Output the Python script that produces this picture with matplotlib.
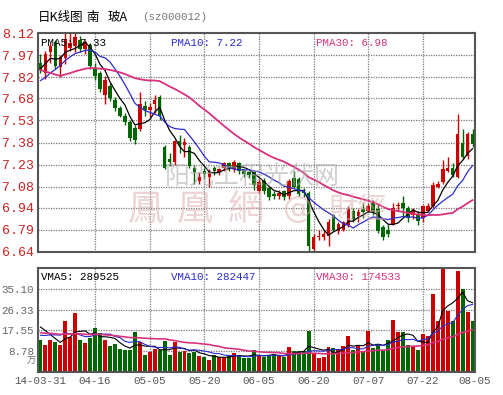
import matplotlib.pyplot as plt
import numpy as np
import pandas as pd

plt.rcParams['font.family'] = ['DejaVu Sans', 'Noto Sans CJK SC']

W, H = 503, 395

# daily candles 2014-03-31 .. 2014-08-05 (88 trading days)
opens = [7.92, 7.85, 7.99, 8.06, 7.89, 7.95, 8.02, 8.03, 8.07, 8.01,
         8.04, 7.88, 7.85, 7.70, 7.76, 7.67, 7.61, 7.56, 7.52, 7.48,
         7.47, 7.63, 7.60, 7.64, 7.69, 7.35, 7.27, 7.25, 7.39, 7.36,
         7.35, 7.21, 7.12, 7.19, 7.15, 7.21, 7.18, 7.21, 7.24, 7.20,
         7.24, 7.20, 7.18, 7.18, 7.05, 7.12, 7.07, 7.03, 7.02, 7.05,
         7.02, 7.14, 7.13, 7.05, 7.04, 6.66, 6.74, 6.74, 6.75, 6.89,
         6.78, 6.79, 6.82, 6.92, 6.88, 6.93, 6.92, 6.97, 6.93, 6.81,
         6.79, 6.83, 6.95, 6.97, 6.94, 6.89, 6.90, 6.87, 6.92, 6.95,
         7.08, 7.11, 7.19, 7.21, 7.15, 7.38, 7.29, 7.44]
highs = [7.98, 8.00, 8.05, 8.07, 7.97, 8.12, 8.14, 8.13, 8.10, 8.07,
         8.05, 7.92, 7.86, 7.83, 7.78, 7.69, 7.63, 7.58, 7.53, 7.50,
         7.72, 7.66, 7.65, 7.70, 7.70, 7.36, 7.31, 7.40, 7.43, 7.41,
         7.36, 7.23, 7.18, 7.21, 7.20, 7.22, 7.21, 7.25, 7.25, 7.26,
         7.25, 7.21, 7.19, 7.19, 7.13, 7.14, 7.08, 7.05, 7.06, 7.06,
         7.13, 7.19, 7.15, 7.07, 7.05, 6.76, 6.79, 6.79, 6.86, 6.90,
         6.84, 6.85, 6.95, 6.94, 6.93, 6.97, 6.97, 6.99, 6.96, 6.82,
         6.83, 6.97, 6.98, 7.02, 6.95, 6.94, 6.92, 6.96, 6.97, 7.11,
         7.12, 7.26, 7.28, 7.24, 7.57, 7.47, 7.45, 7.47]
lows = [7.85, 7.81, 7.92, 7.88, 7.82, 7.91, 8.00, 7.99, 7.99, 7.98,
        7.88, 7.80, 7.72, 7.64, 7.66, 7.59, 7.55, 7.50, 7.39, 7.37,
        7.46, 7.56, 7.55, 7.58, 7.53, 7.20, 7.22, 7.23, 7.31, 7.28,
        7.21, 7.10, 7.10, 7.14, 7.08, 7.16, 7.16, 7.19, 7.19, 7.18,
        7.17, 7.15, 7.14, 7.06, 7.04, 7.03, 6.99, 7.00, 7.00, 6.99,
        7.00, 7.07, 7.02, 7.01, 6.65, 6.65, 6.72, 6.72, 6.68, 6.78,
        6.76, 6.78, 6.81, 6.84, 6.84, 6.87, 6.91, 6.89, 6.77, 6.72,
        6.74, 6.82, 6.92, 6.88, 6.84, 6.86, 6.82, 6.84, 6.91, 6.94,
        7.07, 7.10, 7.18, 7.15, 7.14, 7.27, 7.27, 7.35]
closes = [7.87, 7.98, 8.03, 7.90, 7.96, 8.08, 8.05, 8.09, 8.01, 8.06,
          7.90, 7.83, 7.74, 7.80, 7.68, 7.61, 7.56, 7.52, 7.41, 7.40,
          7.64, 7.60, 7.62, 7.67, 7.56, 7.21, 7.25, 7.39, 7.36, 7.38,
          7.22, 7.18, 7.15, 7.17, 7.18, 7.19, 7.20, 7.24, 7.21, 7.25,
          7.19, 7.17, 7.16, 7.09, 7.11, 7.05, 7.01, 7.02, 7.04, 7.01,
          7.12, 7.08, 7.03, 7.04, 6.68, 6.74, 6.75, 6.76, 6.84, 6.79,
          6.83, 6.84, 6.93, 6.86, 6.91, 6.91, 6.95, 6.91, 6.78, 6.74,
          6.76, 6.94, 6.96, 6.94, 6.87, 6.92, 6.85, 6.95, 6.95, 7.09,
          7.10, 7.20, 7.21, 7.16, 7.44, 7.28, 7.44, 7.37]
# volume, in 10k (万)
volumes = [13.7, 11.2, 13.7, 12.6, 11.2, 21.6, 14.6, 24.7, 13.7, 12.1,
           14.2, 18.4, 16.3, 13.3, 10.9, 11.9, 9.5, 9.1, 9.1, 16.7,
           12.8, 7.0, 8.4, 9.5, 9.1, 13.0, 7.0, 12.6, 8.4, 8.8,
           8.2, 8.4, 6.6, 6.3, 5.0, 7.0, 6.3, 6.3, 6.6, 7.9,
           7.0, 6.1, 6.1, 9.1, 6.7, 6.3, 7.0, 7.4, 7.0, 6.3,
           10.7, 8.8, 8.8, 8.8, 17.2, 7.9, 5.9, 6.3, 10.7, 10.0,
           9.5, 10.9, 15.1, 9.1, 11.6, 8.7, 17.2, 10.0, 11.2, 9.1,
           13.3, 22.0, 17.0, 16.7, 11.2, 10.5, 9.1, 16.0, 15.0, 33.1,
           21.6, 43.7, 25.8, 21.6, 42.6, 34.9, 25.4, 21.6]

# earlier sessions (before 03-31), only used to feed the moving averages
lead_close = [8.30, 8.28, 8.25, 8.22, 7.80, 7.76, 7.74, 7.75, 7.78, 7.80,
              7.82, 7.85, 7.88, 7.86, 7.84, 7.82, 7.85, 7.83, 7.82, 7.85,
              7.78, 7.72, 7.66, 7.68, 7.76, 7.80, 7.86, 7.92, 7.94]
lead_vol = [18, 16, 19, 17, 15, 18, 20, 16, 17, 18, 15, 17, 19, 16, 18, 17, 16, 18, 17, 16,
            12, 11, 13, 12, 12, 19, 22, 21, 19.2]

price_ticks = ['6.64', '6.79', '6.94', '7.08', '7.23', '7.38', '7.53', '7.68', '7.82', '7.97', '8.12']
vol_ticks = ['8.78', '17.55', '26.33', '35.10']
date_labels = ['14-03-31', '04-16', '05-05', '05-20', '06-05', '06-20', '07-07', '07-22', '08-05']
date_index = [0, 11, 22, 33, 44, 55, 66, 77, 87.5]

pma_text = ['PMA5: 7.33', 'PMA10: 7.22', 'PMA30: 6.98']
vma_text = ['VMA5: 289525', 'VMA10: 282447', 'VMA30: 174533']

RED = '#cc0000'
GREEN = '#006600'
BLUE = '#2b2bd0'
PINK = '#d8307c'
GRID = '#7a7a7a'
EDGE = '#555555'
MONO = 'Liberation Mono'
CJK = ['Noto Sans CJK SC']

n = len(closes)
x = np.arange(n)
o = np.array(opens)
c = np.array(closes)
up = c >= o
cols = np.where(up, RED, GREEN)

allc = pd.Series(lead_close + closes)
allv = pd.Series(lead_vol + volumes)
k = len(lead_close)
pma = [allc.rolling(w).mean().values[k:] for w in (5, 10, 30)]
vma = [allv.rolling(w).mean().values[k:] for w in (5, 10, 30)]
ma_cols = ['black', BLUE, PINK]
ma_lw = [0.9, 0.9, 1.3]

fig = plt.figure(figsize=(W / 100, H / 100), dpi=100)


def px_axes(l, t, r, b):
    return fig.add_axes([l / W, 1 - b / H, (r - l) / W, (b - t) / H])


def ftext(xp, yp, s, **kw):
    fig.text(xp / W, 1 - yp / H, s, **kw)


def style(ax):
    for sp in ax.spines.values():
        sp.set_color(EDGE)
        sp.set_linewidth(1.5)
    ax.set_xlim(-0.5, n - 0.5)
    for g in date_index[1:-1]:
        ax.axvline(g, color=GRID, lw=0.9, ls=(0, (1, 1)), zorder=0)


# price panel
ax = px_axes(38, 33, 475, 252)
style(ax)
pvals = [float(t) for t in price_ticks]
ax.set_ylim(6.64, 8.12)
for v in pvals[1:-1]:
    ax.axhline(v, color=GRID, lw=0.9, ls=(0, (1, 1)), zorder=0)
ax.set_yticks(pvals, price_ticks, fontfamily=MONO, fontsize=9.5, color='#cc2222')
ax.tick_params(axis='y', length=0, pad=3)
ax.set_xticks([])
ax.vlines(x, lows, highs, colors=cols, lw=1, zorder=2)
ax.bar(x, np.maximum(np.abs(c - o), 0.006), 0.72, bottom=np.minimum(o, c),
       color=cols, lw=0, zorder=3)
for m, col, lw in zip(pma, ma_cols, ma_lw):
    ax.plot(x, m, color=col, lw=lw, zorder=4)

# volume panel
av = px_axes(38, 268, 475, 372)
style(av)
vvals = [8.775, 17.55, 26.325, 35.1]
av.set_ylim(0, 43.875)
for v in vvals:
    av.axhline(v, color=GRID, lw=0.9, ls=(0, (1, 1)), zorder=0)
av.set_yticks(vvals, vol_ticks, fontfamily=MONO, fontsize=7.8, color='#666666')
av.tick_params(axis='y', length=0, pad=3)
av.set_xticks(date_index, date_labels, fontfamily=MONO, fontsize=7.8, color='#555555')
av.tick_params(axis='x', length=0, pad=3)
av.bar(x, volumes, 0.8, color=cols, lw=0, zorder=2)
for m, col, lw in zip(vma, ma_cols, ma_lw):
    av.plot(x, m, color=col, lw=lw * 0.9, zorder=4)

# title and readouts
ftext(38, 17, '日K线图', family=CJK, fontsize=9, va='center')
ftext(86, 17, '南', family=CJK, fontsize=9, va='center')
ftext(108, 17, '玻A', family=CJK, fontsize=9, va='center')
ftext(142, 17, '(sz000012)', family=MONO, fontsize=7.8, color='#777777', va='center')
for s, xp, col in zip(pma_text, [41, 171, 316], ['black', BLUE, PINK]):
    ftext(xp, 43, s, family=MONO, fontsize=7.8, color=col, va='center')
for s, xp, col in zip(vma_text, [41, 171, 316], ['black', BLUE, PINK]):
    ftext(xp, 277, s, family=MONO, fontsize=7.8, color=col, va='center')
ftext(31, 361, '万', family=CJK, fontsize=6.5, color='#666666', ha='center', va='center')

# watermarks
ftext(165, 177, '阳光工程光伏网', family=CJK, fontsize=18, color='#a8a8a8', alpha=0.55,
      va='center', zorder=10)
for ch, xp in zip(['鳳', '凰', '網'], [128, 177, 228]):
    ftext(xp, 210, ch, family=CJK, fontsize=26, color='#dcaaaa', alpha=0.5,
          va='center', zorder=10)
ftext(283, 210, '@', family=['DejaVu Sans'], fontsize=22, color='#dcaaaa', alpha=0.5,
      va='center', zorder=10)
ftext(328, 210, '財經', family=CJK, fontsize=21, color='#dcaaaa', alpha=0.5,
      va='center', zorder=10)

fig.savefig('out.png', dpi=100)
